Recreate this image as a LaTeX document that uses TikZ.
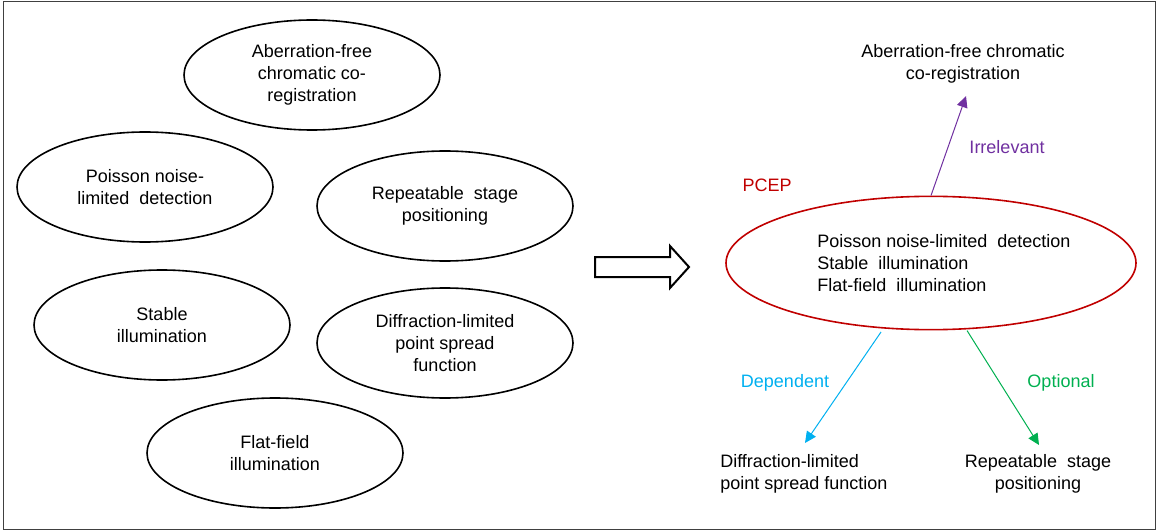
\documentclass[tikz,border=0pt]{standalone}
\usepackage{fontspec}
\setmainfont{Liberation Sans}
\usetikzlibrary{arrows.meta,shapes.geometric}

\definecolor{pcepred}{HTML}{C00000}
\definecolor{irrpurple}{HTML}{7030A0}
\definecolor{depcyan}{HTML}{00B0F0}
\definecolor{optgreen}{HTML}{00B050}

\begin{document}
\begin{tikzpicture}[x=0.75pt,y=-0.75pt,>={Triangle[length=8.5pt,width=8pt]},
  font=\fontsize{13.5}{16.5}\selectfont,
  prop node/.style={ellipse,draw,line width=1.2pt,minimum width=192pt,minimum height=82.5pt,inner sep=0pt,align=center},
  block text/.style={inner sep=0pt,align=left,anchor=west}]

  \useasboundingbox (0,0) rectangle (1156,531);
  \draw[black!75,line width=0.75pt] (3,1.5) rectangle (1155,529);

  % properties, unsorted
  \node[prop node] (aber) at (312,75)  {Aberration-free\\chromatic co-\\registration};
  \node[prop node] (pois) at (145,187) {Poisson noise-\\limited~ detection};
  \node[prop node] (rept) at (445,206) {Repeatable~ stage\\positioning};
  \node[prop node] (stab) at (162,325) {Stable\\illumination};
  \node[prop node] (diff) at (445,343) {Diffraction-limited\\point spread\\function};
  \node[prop node] (flat) at (275,453) {Flat-field\\illumination};

  % big hollow arrow
  \draw[line width=1.5pt,line join=miter] (595,257) -- (670,257) -- (670,246) -- (689,267)
    -- (670,288) -- (670,277) -- (595,277) -- cycle;

  % sorted
  \node[ellipse,draw=pcepred,line width=1.2pt,minimum width=307.5pt,minimum height=100pt] (pcep) at (931,263) {};
  \node[block text] (pcepText) at (817,263) {Poisson noise-limited~ detection\\Stable~ illumination\\Flat-field~ illumination};
  \node[text=pcepred] (pcepLabel) at (767,185) {PCEP};

  \node[align=center] (irrText) at (963,64) {Aberration-free chromatic\\co-registration};
  \node[block text] (depText) at (720,474) {Diffraction-limited\\point spread function};
  \node[align=center] (optText) at (1038,474) {Repeatable~ stage\\positioning};

  \coordinate (irrTip) at (966,96);
  \coordinate (depTip) at (805,443);
  \coordinate (optTip) at (1039,445);

  \node[text=irrpurple] (irrLabel) at (1007,147) {Irrelevant};
  \node[text=depcyan] (depLabel) at (785,383) {Dependent};
  \node[text=optgreen] (optLabel) at (1061,383) {Optional};

  \path[->,line width=0.75pt]
    (pcep.north) edge[irrpurple] (irrTip)
    (pcep.234) edge[depcyan,shorten <=3pt] (depTip)
    (pcep.298) edge[optgreen,shorten <=1pt] (optTip);
\end{tikzpicture}
\end{document}
